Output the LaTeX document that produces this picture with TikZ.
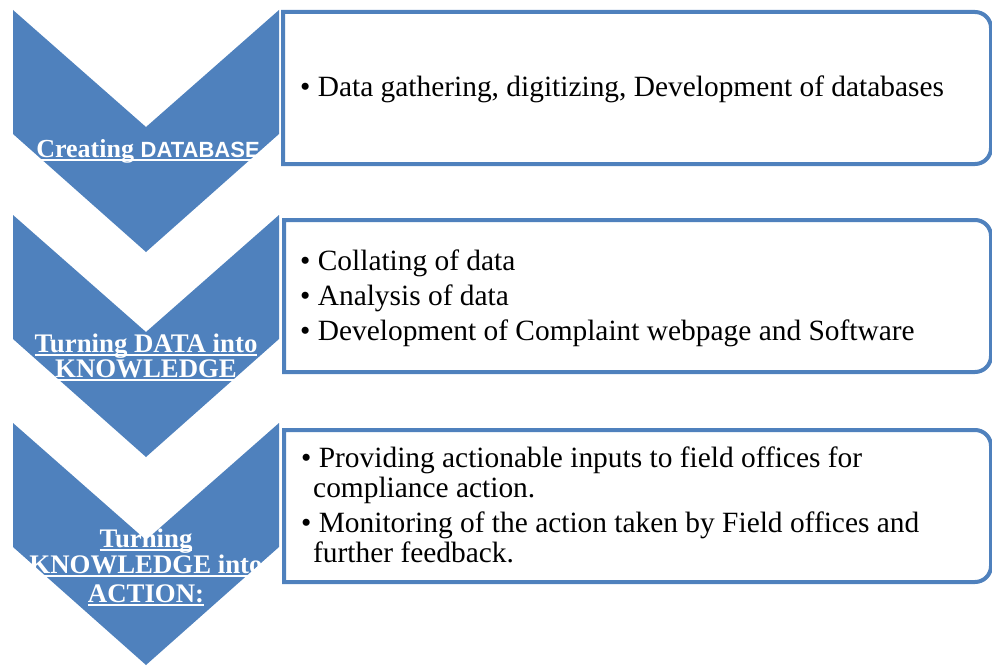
\documentclass[tikz,border=0pt]{standalone}
\usepackage{fontspec}
\setmainfont{Liberation Serif}
\newfontfamily\sansfnt{Liberation Sans}
\definecolor{cblue}{HTML}{4F81BD}
\newsavebox\ulbox
\newcommand{\myul}[1]{\sbox\ulbox{#1}\rlap{\rule[-3.5pt]{\wd\ulbox}{1.4pt}}\usebox\ulbox}
\tikzset{
  chev/.style={fill=cblue},
  itembox/.style={draw=cblue, line width=4pt, fill=white},
  lab/.style={font=\fontsize{26.8}{28}\selectfont\bfseries, text=white, inner sep=0pt, anchor=base},
  itm/.style={font=\fontsize{29.4}{34}\selectfont, text=black, inner sep=0pt, anchor=base west}
}
\begin{document}
\begin{tikzpicture}[x=1pt,y=-1pt]
\useasboundingbox (0,0) rectangle (992,666);
% chevrons
\foreach \t in {10,215,423}{
  \fill[chev] (13,\t) -- (146,\t+117) -- (279,\t) -- (279,\t+124) -- (146,\t+242) -- (13,\t+124) -- cycle;
}
% boxes
\draw[itembox] (283,12) [rounded corners=16] -- (991,12) -- (991,164) [sharp corners] -- (283,164) -- cycle;
\draw[itembox] (284,220) [rounded corners=16] -- (991,220) -- (991,372) [sharp corners] -- (284,372) -- cycle;
\draw[itembox] (284,430) [rounded corners=16] -- (991,430) -- (991,582) [sharp corners] -- (284,582) -- cycle;
% chevron labels
\node[lab] (l1) at (148,157) {\myul{{\fontsize{26}{28}\selectfont Creating} {\sansfnt\fontsize{22}{24}\selectfont\bfseries DATABASE}}};
\node[lab] (l2a) at (146,352) {\myul{Turning DATA into}};
\node[lab] (l2b) at (146,377) {\myul{KNOWLEDGE}};
\node[lab] (l3a) at (146,547) {\myul{Turning}};
\node[lab] (l3b) at (146,573) {\myul{KNOWLEDGE into}};
\node[lab] (l3c) at (146,602) {\myul{ACTION:}};
% box texts
\node[itm] (t1) at (300,97) {\textbullet\ Data gathering, digitizing, Development of databases};
\node[itm] (t2a) at (300,270) {\textbullet\ Collating of data};
\node[itm] (t2b) at (300,305) {\textbullet\ Analysis of data};
\node[itm] (t2c) at (300,340) {\textbullet\ Development of Complaint webpage and Software};
\node[itm] (t3a) at (301,467) {\textbullet\ Providing actionable inputs to field offices for};
\node[itm] (t3b) at (313,497) {compliance action.};
\node[itm] (t3c) at (301,532) {\textbullet\ Monitoring of the action taken by Field offices and};
\node[itm] (t3d) at (313,562) {further feedback.};
\end{tikzpicture}
\end{document}
